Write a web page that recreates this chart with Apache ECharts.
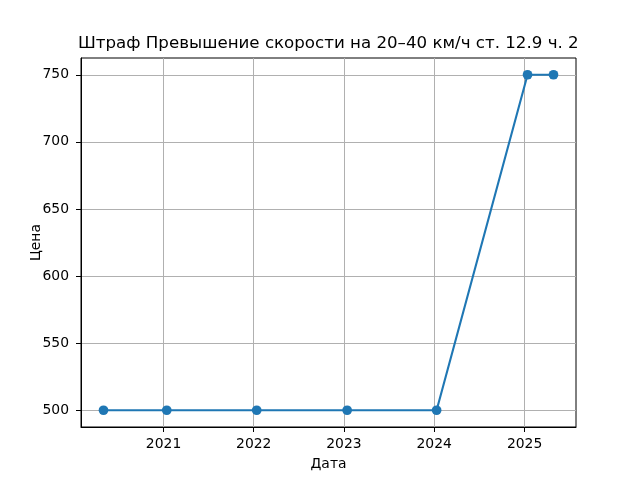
<!DOCTYPE html>
<html>
<head>
<meta charset="utf-8">
<script src="https://cdn.jsdelivr.net/npm/echarts@6/dist/echarts.min.js"></script>
<style>html,body{margin:0;padding:0;background:#fff}#c{width:640px;height:480px}</style>
</head>
<body>
<div id="c"></div>
<script>
const titleText = 'Штраф Превышение скорости на 20–40 км/ч ст. 12.9 ч. 2';
const dates = ['2020-05-03', '2021-01-14', '2022-01-13', '2023-01-14', '2024-01-11', '2025-01-13', '2025-04-28'];
const prices = [500, 500, 500, 500, 500, 750, 750];
const xTickYears = ['2021', '2022', '2023', '2024', '2025'];
const yTicks = [500, 550, 600, 650, 700, 750];

const ts = dates.map(d => Date.parse(d + 'T00:00:00Z'));
const xSpan = ts[ts.length - 1] - ts[0];
const xMin = ts[0] - xSpan * 0.05;
const xMax = ts[ts.length - 1] + xSpan * 0.05;
const yLo = Math.min(...prices), yHi = Math.max(...prices);
const yMin = yLo - (yHi - yLo) * 0.05;
const yMax = yHi + (yHi - yLo) * 0.05;
const xTicks = xTickYears.map(y => Date.parse(y + '-01-01T00:00:00Z'));

const font = 'DejaVu Sans';
const chart = echarts.init(document.getElementById('c'), null, {renderer: 'canvas'});
chart.setOption({
  animation: false,
  backgroundColor: '#fff',
  title: {
    text: titleText, left: 78, top: 35.5, padding: 0,
    textStyle: {fontFamily: font, fontSize: 16.67, fontWeight: 'normal', color: '#000'}
  },
  grid: {left: 81, right: 64, top: 58, bottom: 53, show: true, borderColor: '#000', borderWidth: 1, backgroundColor: 'transparent'},
  xAxis: {
    type: 'value', min: xMin, max: xMax, scale: true,
    name: 'Дата', nameLocation: 'middle', nameGap: 30, nameMoveOverlap: false,
    nameTextStyle: {fontFamily: font, fontSize: 13.9, color: '#000'},
    axisLine: {show: true, lineStyle: {color: '#000', width: 1}},
    axisTick: {show: true, customValues: xTicks, length: 5, lineStyle: {color: '#000'}},
    axisLabel: {customValues: xTicks, formatter: v => String(new Date(v).getUTCFullYear()), fontFamily: font, fontSize: 13.9, color: '#000', margin: 10},
    splitLine: {show: true, lineStyle: {color: '#b0b0b0', width: 1}}
  },
  yAxis: {
    type: 'value', min: yMin, max: yMax, scale: true,
    name: 'Цена', nameLocation: 'middle', nameGap: 38, nameMoveOverlap: false,
    nameTextStyle: {fontFamily: font, fontSize: 13.9, color: '#000'},
    axisLine: {show: true, lineStyle: {color: '#000', width: 1}},
    axisTick: {show: true, customValues: yTicks, length: 5, lineStyle: {color: '#000'}},
    axisLabel: {customValues: yTicks, fontFamily: font, fontSize: 13.9, color: '#000', margin: 12},
    splitLine: {show: true, lineStyle: {color: '#b0b0b0', width: 1}}
  },
  series: [{
    type: 'line',
    data: ts.map((t, i) => [t, prices[i]]),
    symbol: 'circle', symbolSize: 9.7,
    itemStyle: {color: '#1f77b4'},
    lineStyle: {color: '#1f77b4', width: 2.1}
  }]
});
</script>
</body>
</html>
